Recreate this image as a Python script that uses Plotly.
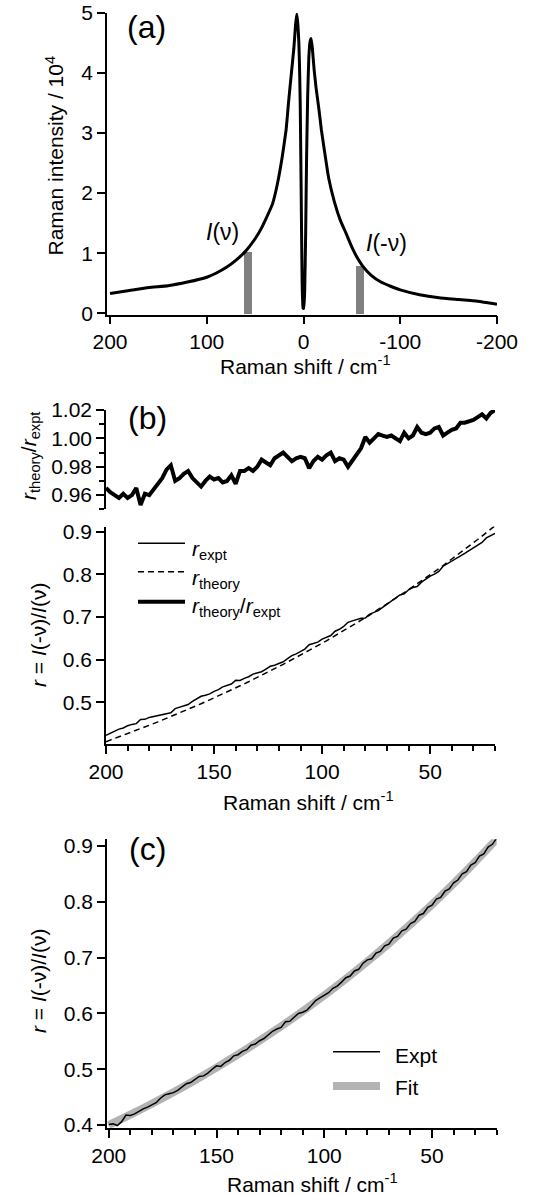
import plotly.graph_objects as go

W, H = 536, 1195
FONT = "Arial, Liberation Sans, sans-serif"

# ---------------- Panel (a): Raman spectrum ----------------
spec_shift = [200, 180, 160, 140, 120, 100, 90, 80, 70, 60, 50, 44, 38, 32, 27, 22, 18, 15.5, 12.5, 10,
              8.2, 6.9, 5.8, 4.8, 4.1, 3.4, 2.4, 1.4, 0.5, -0.3, -1.2, -2.2, -3.2, -4.3, -5.5, -6.8, -7.9,
              -9.2, -11, -13, -15.9, -18.5, -21.7, -26, -32, -38, -44, -50, -55, -61, -70, -80, -90, -100,
              -120, -140, -160, -180, -200]
spec_int = [0.33, 0.38, 0.43, 0.46, 0.52, 0.60, 0.67, 0.76, 0.88, 1.03, 1.24, 1.40, 1.60, 1.82, 2.15, 2.60,
            3.05, 3.50, 4.00, 4.40, 4.80, 4.98, 4.80, 4.50, 4.10, 3.50, 2.00, 0.50, 0.09, 0.08, 0.35, 1.30,
            2.60, 3.60, 4.25, 4.52, 4.57, 4.40, 4.05, 3.75, 3.40, 3.05, 2.70, 2.25, 1.85, 1.55, 1.33, 1.10,
            0.94, 0.79, 0.63, 0.52, 0.45, 0.39, 0.31, 0.26, 0.23, 0.20, 0.15]
bar_shift = [57.5, -58.5]
bar_int = [1.03, 0.80]

# ---------------- Panel (b) ----------------
shift_b = list(range(200, 18, -2))
ratio_b = [0.965, 0.962, 0.960, 0.958, 0.961, 0.958, 0.960, 0.965, 0.953, 0.961,
           0.960, 0.964, 0.967, 0.972, 0.978, 0.981, 0.970, 0.972, 0.975, 0.977,
           0.972, 0.969, 0.966, 0.970, 0.973, 0.971, 0.972, 0.969, 0.970, 0.974,
           0.968, 0.977, 0.977, 0.979, 0.977, 0.980, 0.985, 0.983, 0.981, 0.986,
           0.988, 0.990, 0.987, 0.984, 0.986, 0.987, 0.986, 0.979, 0.984, 0.987,
           0.985, 0.988, 0.990, 0.984, 0.986, 0.985, 0.980, 0.984, 0.988, 0.993,
           1.001, 0.997, 1.000, 1.003, 1.002, 1.001, 1.002, 1.000, 0.998, 1.004,
           1.000, 1.002, 1.008, 1.004, 1.003, 1.004, 1.007, 1.008, 1.002, 1.004,
           1.006, 1.007, 1.011, 1.011, 1.012, 1.013, 1.015, 1.017, 1.014, 1.018,
           1.020]
r_theory_b = [0.4082, 0.4119, 0.4156, 0.4193, 0.4231, 0.4269, 0.4307, 0.4346, 0.4385, 0.4425,
              0.4464, 0.4505, 0.4545, 0.4586, 0.4627, 0.4669, 0.4711, 0.4753, 0.4796, 0.4839,
              0.4883, 0.4927, 0.4971, 0.5016, 0.5061, 0.5107, 0.5153, 0.5199, 0.5246, 0.5293,
              0.5341, 0.5389, 0.5437, 0.5486, 0.5535, 0.5585, 0.5635, 0.5686, 0.5737, 0.5789,
              0.5841, 0.5894, 0.5947, 0.6000, 0.6054, 0.6108, 0.6163, 0.6219, 0.6275, 0.6331,
              0.6388, 0.6445, 0.6503, 0.6562, 0.6621, 0.6680, 0.6740, 0.6801, 0.6862, 0.6924,
              0.6986, 0.7049, 0.7112, 0.7176, 0.7241, 0.7306, 0.7372, 0.7438, 0.7505, 0.7573,
              0.7641, 0.7709, 0.7779, 0.7849, 0.7919, 0.7991, 0.8063, 0.8135, 0.8208, 0.8282,
              0.8357, 0.8432, 0.8508, 0.8584, 0.8662, 0.8740, 0.8818, 0.8898, 0.8978, 0.9059,
              0.9140]
r_expt_b = [0.4230, 0.4282, 0.4329, 0.4377, 0.4403, 0.4456, 0.4487, 0.4504, 0.4601, 0.4605,
            0.4650, 0.4673, 0.4700, 0.4718, 0.4731, 0.4760, 0.4857, 0.4890, 0.4919, 0.4953,
            0.5024, 0.5085, 0.5146, 0.5171, 0.5201, 0.5260, 0.5301, 0.5365, 0.5408, 0.5434,
            0.5518, 0.5516, 0.5565, 0.5604, 0.5665, 0.5699, 0.5721, 0.5784, 0.5848, 0.5871,
            0.5912, 0.5954, 0.6025, 0.6098, 0.6140, 0.6188, 0.6251, 0.6353, 0.6377, 0.6414,
            0.6485, 0.6523, 0.6569, 0.6669, 0.6715, 0.6782, 0.6878, 0.6912, 0.6945, 0.6973,
            0.6979, 0.7070, 0.7112, 0.7155, 0.7227, 0.7299, 0.7357, 0.7438, 0.7520, 0.7543,
            0.7641, 0.7694, 0.7717, 0.7818, 0.7895, 0.7959, 0.8007, 0.8070, 0.8192, 0.8249,
            0.8307, 0.8373, 0.8415, 0.8491, 0.8559, 0.8628, 0.8688, 0.8749, 0.8854, 0.8899,
            0.8961]

# ---------------- Panel (c) ----------------
shift_c = list(range(200, 18, -2))
r_expt_c = [0.401, 0.402, 0.399, 0.406, 0.418, 0.417, 0.420, 0.425, 0.429, 0.432,
            0.436, 0.440, 0.448, 0.454, 0.456, 0.458, 0.462, 0.468, 0.474, 0.476,
            0.481, 0.487, 0.488, 0.493, 0.500, 0.506, 0.505, 0.512, 0.516, 0.524,
            0.526, 0.532, 0.535, 0.543, 0.545, 0.551, 0.555, 0.562, 0.568, 0.572,
            0.575, 0.585, 0.586, 0.593, 0.600, 0.602, 0.606, 0.614, 0.623, 0.628,
            0.632, 0.637, 0.645, 0.649, 0.656, 0.664, 0.667, 0.676, 0.679, 0.690,
            0.696, 0.698, 0.708, 0.711, 0.721, 0.724, 0.735, 0.738, 0.748, 0.751,
            0.761, 0.765, 0.776, 0.779, 0.790, 0.794, 0.805, 0.808, 0.819, 0.823,
            0.834, 0.839, 0.850, 0.854, 0.866, 0.870, 0.882, 0.886, 0.898, 0.903,
            0.914]
fit_shift_c = list(range(200, 10, -10))
fit_c = [0.3999, 0.4186, 0.4382, 0.4588, 0.4803, 0.5028, 0.5264, 0.5511, 0.5769, 0.6040,
         0.6323, 0.6620, 0.6930, 0.7255, 0.7596, 0.7952, 0.8325, 0.8715, 0.9124]

tick_a_x = [200, 100, 0, -100, -200]
tick_a_x_text = ["200", "100", "0", "-100", "-200"]


def X(px):
    return px / W


def Y(py):
    return 1 - py / H


fig = go.Figure()

# (a)
fig.add_trace(go.Bar(x=bar_shift, y=bar_int, width=[8.5, 8.5], marker=dict(color="#808080", line=dict(width=0)),
                     xaxis="x", yaxis="y", showlegend=False))
fig.add_trace(go.Scatter(x=spec_shift, y=spec_int, mode="lines",
                         line=dict(color="black", width=3, shape="spline", smoothing=0.35),
                         xaxis="x", yaxis="y", showlegend=False))
# (b) top
fig.add_trace(go.Scatter(x=shift_b, y=ratio_b, mode="lines", line=dict(color="black", width=4),
                         xaxis="x2", yaxis="y2", showlegend=False))
# (b) bottom
fig.add_trace(go.Scatter(x=shift_b, y=r_theory_b, mode="lines", line=dict(color="black", width=1.5, dash="6px,4px"),
                         xaxis="x3", yaxis="y3", showlegend=False))
fig.add_trace(go.Scatter(x=shift_b, y=r_expt_b, mode="lines", line=dict(color="black", width=1.5),
                         xaxis="x3", yaxis="y3", showlegend=False))
# (c)
fig.add_trace(go.Scatter(x=fit_shift_c, y=fit_c, mode="lines", line=dict(color="#b3b3b3", width=8, shape="spline"),
                         xaxis="x4", yaxis="y4", showlegend=False))
fig.add_trace(go.Scatter(x=shift_c, y=r_expt_c, mode="lines", line=dict(color="black", width=1.5),
                         xaxis="x4", yaxis="y4", showlegend=False))

base = dict(showline=True, linecolor="black", linewidth=1.5, ticks="outside", ticklen=8, tickwidth=1.5,
            tickcolor="black", showgrid=False, zeroline=False, automargin=False,
            tickfont=dict(family=FONT, size=21, color="black"))
minor_x = dict(ticks="outside", ticklen=5, tickwidth=1.5, tickcolor="black", dtick=10, tick0=0, showgrid=False)

layout = dict(
    width=W, height=H, margin=dict(l=0, r=0, t=0, b=0), paper_bgcolor="white", plot_bgcolor="white",
    showlegend=False, bargap=0,
    font=dict(family=FONT, size=21, color="black"),
    xaxis=dict(base, domain=[X(107), X(497)], range=[203.1, -200], tickmode="array", tickvals=tick_a_x,
               ticktext=tick_a_x_text, anchor="y"),
    yaxis=dict(base, domain=[Y(314.5), Y(12.7)], range=[-0.02, 5.0], tickmode="linear", tick0=0, dtick=1, anchor="x"),
    xaxis2=dict(domain=[X(106), X(495)], range=[200, 20], showline=False, showticklabels=False, ticks="",
                showgrid=False, zeroline=False, anchor="y2"),
    yaxis2=dict(base, domain=[Y(509.3), Y(410)], range=[0.95, 1.02], tickmode="linear", tick0=0, dtick=0.02,
                tickformat=".2f", anchor="x2",
                minor=dict(ticks="outside", ticklen=5, tickwidth=1.5, tickcolor="black", dtick=0.01, tick0=0, showgrid=False)),
    xaxis3=dict(base, domain=[X(106), X(495)], range=[200, 20], tickmode="linear", tick0=0, dtick=50, anchor="y3",
                minor=minor_x),
    yaxis3=dict(base, domain=[Y(743.9), Y(526.6)], range=[0.403, 0.912], tickmode="linear", tick0=0, dtick=0.1,
                tickformat=".1f", anchor="x3"),
    xaxis4=dict(base, domain=[X(107), X(496.7)], range=[200.8, 20], tickmode="linear", tick0=0, dtick=50, anchor="y4",
                minor=minor_x),
    yaxis4=dict(base, domain=[Y(1127.8), Y(839.3)], range=[0.395, 0.912], tickmode="linear", tick0=0, dtick=0.1,
                tickformat=".1f", anchor="x4"),
)
fig.update_layout(**layout)


def ann(px, py, text, size=21, angle=0, xanchor="center", yanchor="middle"):
    fig.add_annotation(x=X(px), y=Y(py), xref="paper", yref="paper", text=text, showarrow=False,
                       textangle=angle, xanchor=xanchor, yanchor=yanchor,
                       font=dict(family=FONT, size=size, color="black"))


# panel labels
ann(146, 27, "(a)", size=32)
ann(147, 417.5, "(b)", size=32)
ann(147, 849, "(c)", size=32)
# (a) annotations
ann(222, 232, "<i>I</i>(ν)", size=23)
ann(386, 243, "<i>I</i>(-ν)", size=23)
# axis titles
ann(305, 365, "Raman shift / cm<sup>-1</sup>")
ann(308, 801, "Raman shift / cm<sup>-1</sup>")
ann(312, 1183, "Raman shift / cm<sup>-1</sup>")
ann(54, 155.5, "Raman intensity / 10<sup>4</sup>", angle=-90)
ann(30, 456, "<i>r</i><sub>theory</sub>/<i>r</i><sub>expt</sub>", angle=-90)
ann(38, 635, "<i>r</i> = <i>I</i>(-ν)/<i>I</i>(ν)", angle=-90)
ann(38, 981, "<i>r</i> = <i>I</i>(-ν)/<i>I</i>(ν)", angle=-90)

# legend (b)
shapes = []
for yy, dash, wd in [(543.3, "solid", 1.5), (571.7, "6px,4px", 1.5), (601.7, "solid", 4)]:
    shapes.append(dict(type="line", xref="paper", yref="paper", x0=X(138), x1=X(185), y0=Y(yy), y1=Y(yy),
                       line=dict(color="black", width=wd, dash=dash)))
ann(190, 550, "<i>r</i><sub>expt</sub>", xanchor="left")
ann(190, 578.5, "<i>r</i><sub>theory</sub>", xanchor="left")
ann(190, 606.5, "<i>r</i><sub>theory</sub>/<i>r</i><sub>expt</sub>", xanchor="left")
# legend (c)
shapes.append(dict(type="line", xref="paper", yref="paper", x0=X(333), x1=X(380), y0=Y(1051.7), y1=Y(1051.7),
                   line=dict(color="black", width=1.5)))
shapes.append(dict(type="line", xref="paper", yref="paper", x0=X(333), x1=X(380), y0=Y(1086), y1=Y(1086),
                   line=dict(color="#b3b3b3", width=8)))
ann(393, 1055, "Expt", xanchor="left")
ann(393, 1087, "Fit", xanchor="left")
fig.update_layout(shapes=shapes)

fig.write_html("out.html", config={"displayModeBar": False},
               post_script="document.body.style.margin='0';")
